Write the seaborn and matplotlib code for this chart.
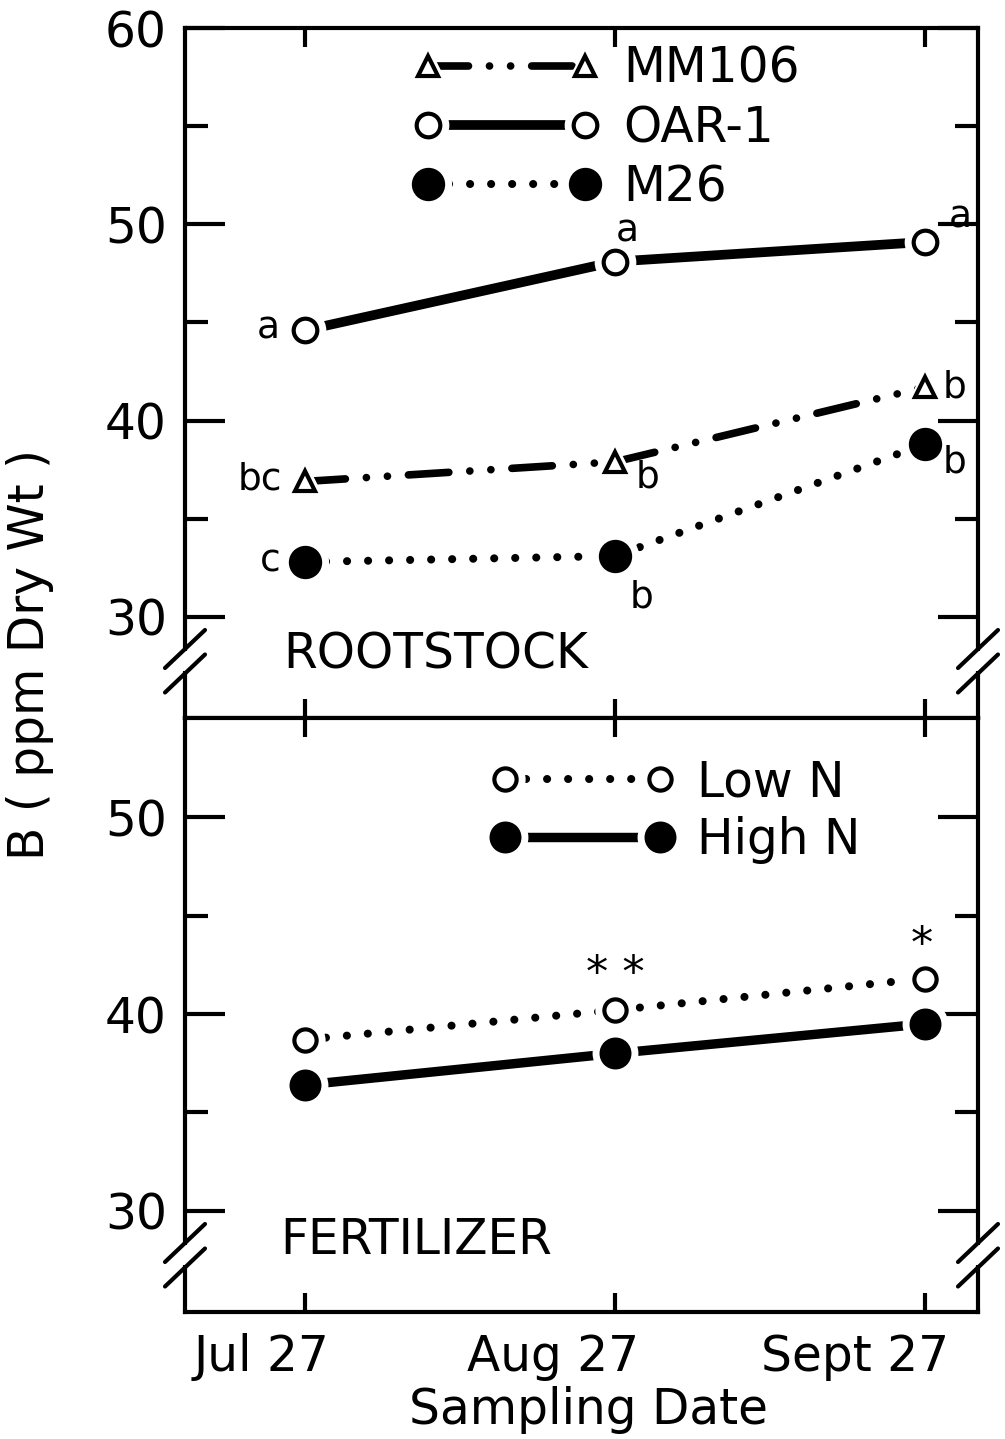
import numpy as np
import pandas as pd
import matplotlib
matplotlib.use("Agg")
import matplotlib.pyplot as plt
import seaborn as sns
from matplotlib.patches import Rectangle
from matplotlib.lines import Line2D
from matplotlib.legend_handler import HandlerTuple
import matplotlib.transforms as mtransforms

# ---------------- data ----------------
dates = ["Jul 27", "Aug 27", "Sept 27"]
mm106 = [36.9, 37.9, 41.7]
oar1 = [44.6, 48.1, 49.1]
m26 = [32.8, 33.1, 38.8]
low_n = [38.7, 40.2, 41.8]
high_n = [36.4, 38.0, 39.5]
mm106_letters = ["bc", "b", "b"]
oar1_letters = ["a", "a", "a"]
m26_letters = ["c", "b", "b"]
low_n_marks = ["", "* *", "*"]
rootstock_names = ["MM106", "OAR-1", "M26"]
fert_names = ["Low N", "High N"]

# ---------------- style ----------------
sns.set_style("ticks")
plt.rcParams['font.family'] = ['DejaVu Sans']
plt.rcParams.update({'text.color': 'black', 'axes.labelcolor': 'black',
                     'xtick.color': 'black', 'ytick.color': 'black'})
FS = 35

W, H = 1005, 1439
fig = plt.figure(figsize=(W / 100, H / 100), dpi=100)


def px_rect(l, t, r, b):
    return [l / W, 1 - b / H, (r - l) / W, (b - t) / H]


ax1 = fig.add_axes(px_rect(185, 28, 978, 718))
ax2 = fig.add_axes(px_rect(185, 718, 978, 1312))

DOT = (0, (0.01, 2.6))
DASHDOTDOT = (0, (5.3, 2.75, 0.01, 2.75, 0.01, 2.75))


def series(ax, y, ls, lw, marker, ms, mfc, mew=3.0, halo=13):
    df = pd.DataFrame({"x": np.arange(len(y)), "y": y})
    sns.lineplot(data=df, x="x", y="y", ax=ax, color="black", lw=lw,
                 linestyle=ls, zorder=2, dash_capstyle='round',
                 solid_capstyle='round')
    line = ax.lines[-1]
    h, = ax.plot(df["x"], df["y"], ls='none', marker=marker, ms=ms + halo,
                 mfc='white', mec='none', zorder=3)
    m, = ax.plot(df["x"], df["y"], ls='none', marker=marker, ms=ms,
                 mfc=mfc, mec='black', mew=mew, zorder=4)
    return (line, h, m)


h_mm = series(ax1, mm106, DASHDOTDOT, 5.5, '^', 15, 'white', halo=15)
h_oar = series(ax1, oar1, '-', 7.0, 'o', 17, 'white')
h_m26 = series(ax1, m26, DOT, 5.8, 'o', 21, 'black')
h_low = series(ax2, low_n, DOT, 5.8, 'o', 16, 'white')
h_high = series(ax2, high_n, '-', 6.8, 'o', 20, 'black')


def annotate(ax, y, labels, offsets, fs=27):
    for i, (lab, (dx, dy)) in enumerate(zip(labels, offsets)):
        if lab:
            ax.annotate(lab, (i, y[i]), xytext=(dx, dy),
                        textcoords='offset pixels', ha='center', va='center',
                        fontsize=fs)


annotate(ax1, oar1, oar1_letters, [(-37, 2), (12, 30), (35, 24)])
annotate(ax1, mm106, mm106_letters, [(-45, 2), (33, -16), (30, 0)])
annotate(ax1, m26, m26_letters, [(-35, 0), (27, -41), (30, -18)])
annotate(ax2, low_n, low_n_marks, [(0, 0), (0, 36), (-3, 33)], fs=32)

# ---------------- axes ----------------
for ax in (ax1, ax2):
    ax.set_xlim(-0.387, 2.171)
    ax.set_xticks([0, 1, 2])
    ax.set_xlabel('')
    ax.set_ylabel('')
    ax.tick_params(axis='both', which='both', direction='in', width=3,
                   color='black')
    ax.tick_params(axis='y', which='major', length=29, left=True,
                   right=True, labelsize=FS, pad=13)
    ax.tick_params(axis='y', which='minor', length=16.5, left=True,
                   right=True)
    ax.tick_params(axis='x', which='major', length=14, top=True,
                   bottom=True)
    for s in ax.spines.values():
        s.set_linewidth(3)
        s.set_color('black')

ax1.set_ylim(24.85, 60)
ax1.set_yticks([30, 40, 50, 60])
ax1.set_yticks([35, 45, 55], minor=True)
ax1.tick_params(axis='x', labelbottom=False)

ax2.set_ylim(24.87, 55.03)
ax2.set_yticks([30, 40, 50])
ax2.set_yticks([35, 45], minor=True)
ax2.set_xticklabels(dates, fontsize=FS, ha='right')
ax2.tick_params(axis='x', pad=15)
for lab in ax2.get_xticklabels():
    lab.set_transform(lab.get_transform() +
                      mtransforms.ScaledTranslation(24 / 100, 0,
                                                    fig.dpi_scale_trans))

ax2.set_xlabel("Sampling Date", fontsize=FS)
ax2.xaxis.set_label_coords((588 - 185) / 793, (1312 - 1410) / 594)
ax2.xaxis.label.set_va('center')

fig.text(30 / W, 1 - 655 / H, "B ( ppm Dry Wt )", rotation=90,
         va='center', ha='center', fontsize=FS)

ax1.text(-0.071, 28.06, "ROOTSTOCK", fontsize=FS, ha='left', va='center')
ax2.text(-0.081, 28.53, "FERTILIZER", fontsize=FS, ha='left', va='center')


# ---------------- axis breaks ----------------
def breaks(ax, axh):
    axw = 793
    for xf in (0, 1):
        ax.add_patch(Rectangle((xf - 7 / axw, 47 / axh), 14 / axw, 20 / axh,
                               transform=ax.transAxes, facecolor='white',
                               edgecolor='none', clip_on=False, zorder=10))
        for yc in (69, 44.5):
            ax.add_artist(Line2D([xf - 20 / axw, xf + 20 / axw],
                                 [(yc - 19) / axh, (yc + 19) / axh],
                                 transform=ax.transAxes, color='black', lw=3,
                                 clip_on=False, zorder=11,
                                 solid_capstyle='round'))


breaks(ax1, 690)
breaks(ax2, 594)

# ---------------- legends ----------------
leg1 = ax1.legend(handles=[h_mm, h_oar, h_m26], labels=rootstock_names,
                  handler_map={tuple: HandlerTuple(ndivide=1)}, numpoints=2,
                  handlelength=3.84, handletextpad=0.47, labelspacing=0.23,
                  borderpad=0, borderaxespad=0, frameon=False,
                  loc='center left', bbox_to_anchor=(413.4 / W, 1 - 128 / H),
                  bbox_transform=fig.transFigure, fontsize=FS)
leg2 = ax2.legend(handles=[h_low, h_high], labels=fert_names,
                  handler_map={tuple: HandlerTuple(ndivide=1)}, numpoints=2,
                  handlelength=3.78, handletextpad=0.47, labelspacing=0.19,
                  borderpad=0, borderaxespad=0, frameon=False,
                  loc='center left', bbox_to_anchor=(490.4 / W, 1 - 811 / H),
                  bbox_transform=fig.transFigure, fontsize=FS)

fig.savefig("out.png", dpi=100, facecolor='white')
